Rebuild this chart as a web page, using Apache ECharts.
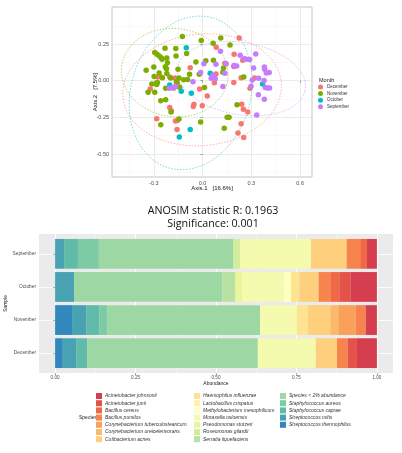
<!DOCTYPE html>
<html><head><meta charset="utf-8">
<script src="https://cdn.jsdelivr.net/npm/echarts@6/dist/echarts.min.js"></script>
<style>html,body{margin:0;padding:0;background:#fff}#c{width:402px;height:453px}</style>
</head><body><div id="c"></div>
<script>
// ---------------- DATA ----------------
const months = ['December', 'November', 'October', 'September'];
const decemberPts = [[0.225,0.292],[0.194,0.181],[0.137,0.120],[0.247,0.139],[-0.076,0.088],[0.192,0.097],[0.082,0.046],[0.073,-0.014],[0.192,-0.012],[0.237,0.021],[0.320,0.019],[0.292,-0.051],[-0.276,0.025],[-0.251,0.023],[-0.202,0.025],[-0.169,0.019],[-0.155,-0.016],[-0.176,-0.049],[-0.018,-0.056],[0.029,-0.104],[-0.053,-0.160],[-0.057,-0.176],[-0.002,-0.171],[-0.202,-0.183],[-0.192,-0.206],[-0.167,-0.275],[-0.155,-0.271],[-0.157,-0.333],[-0.282,-0.259],[0.241,-0.160],[0.251,-0.194],[0.278,-0.213],[0.237,-0.294],[0.218,-0.357],[0.253,-0.387],[-0.322,-0.056],[0.084,0.229]];
const novemberPts = [[-0.124,0.301],[-0.008,0.275],[0.065,0.255],[0.112,0.292],[0.169,0.243],[-0.231,0.222],[-0.165,0.220],[-0.294,0.192],[-0.280,0.181],[-0.267,0.169],[-0.255,0.157],[-0.249,0.146],[-0.220,0.155],[-0.163,0.169],[-0.098,0.185],[-0.216,0.123],[-0.041,0.127],[0.020,0.137],[0.067,0.139],[-0.229,0.095],[-0.151,0.079],[-0.347,0.072],[-0.300,0.093],[-0.222,0.081],[0.129,0.086],[-0.267,0.053],[-0.220,0.049],[-0.080,0.044],[-0.020,0.044],[0.125,0.058],[-0.298,0.028],[-0.247,0.021],[-0.196,0.019],[-0.145,0.019],[-0.278,-0.012],[-0.161,-0.009],[-0.116,0.007],[-0.092,0.009],[-0.312,-0.023],[-0.282,-0.025],[-0.227,-0.051],[-0.141,-0.044],[0.012,-0.046],[-0.335,-0.079],[-0.294,-0.079],[-0.257,-0.137],[-0.227,-0.130],[-0.194,-0.213],[-0.145,-0.262],[-0.012,-0.282],[0.212,-0.164],[0.151,-0.250],[0.163,-0.250],[0.133,-0.324],[-0.257,-0.301],[0.253,0.025]];
const octoberPts = [[-0.100,0.225],[-0.202,-0.030],[-0.131,-0.072],[-0.069,-0.086],[0.047,0.051],[0.369,-0.023],[-0.076,-0.333],[-0.143,-0.384]];
const septemberPts = [[0.110,0.201],[0.008,0.116],[0.082,0.113],[0.145,0.116],[0.231,0.174],[0.257,0.150],[0.269,0.146],[0.290,0.144],[0.327,0.183],[0.314,0.086],[0.194,0.104],[0.210,0.100],[0.380,0.093],[0.382,0.079],[0.392,0.053],[0.410,0.056],[0.345,0.016],[0.378,0.002],[0.386,-0.046],[0.398,-0.049],[0.412,-0.049],[0.380,-0.127],[0.343,-0.095],[0.333,-0.234],[0.298,-0.037],[0.306,0.005],[0.053,0.016],[0.059,0.023],[0.078,0.014],[-0.012,0.056],[-0.059,-0.007],[-0.204,-0.051],[-0.184,-0.049],[-0.167,-0.039],[0.125,-0.039],[0.137,0.051],[0.065,0.035]];
// ellipse: [centerX, centerY, semiAxisA, semiAxisB, angleDeg]
const decemberEllipse = [-0.003, -0.062, 0.49, 0.38, 8];
const novemberEllipse = [-0.171, 0.055, 0.33, 0.30, -15];
const octoberEllipse = [-0.073, -0.083, 0.53, 0.37, 78];
const septemberEllipse = [0.239, 0.014, 0.40, 0.245, -12];
const pcoaXTicks = [-0.3, 0, 0.3, 0.6];
const pcoaYTicks = [-0.5, -0.25, 0, 0.25];
const pcoaXMinor = [-0.45, -0.15, 0.15, 0.45];
const pcoaYMinor = [-0.625, -0.375, -0.125, 0.125, 0.375];

const samples = ['September', 'October', 'November', 'December'];
const species = ['Acinetobacter johnsonii','Acinetobacter junii','Bacillus cereus','Bacillus pumilus','Corynebacterium tuberculostearicum','Corynebacterium ureicelerivorans','Cutibacterium acnes','Haemophilus influenzae','Lactobacillus crispatus','Methylobacterium mesophilicum','Moraxella osloensis','Pseudomonas stutzeri','Roseomonas gilardii','Serratia liquefaciens','Species < 2% abundance','Staphylococcus aureus','Staphylococcus caprae','Streptococcus mitis','Streptococcus thermophilus'];
// abundance per sample, in species order above
const septemberAbund = [0.031,0,0.021,0.042,0,0,0.111,0,0,0,0.220,0,0.022,0,0.417,0.065,0.043,0.028,0];
const octoberAbund   = [0.081,0.036,0.028,0.036,0,0,0.060,0.026,0,0.023,0.129,0.021,0,0.040,0.461,0,0,0.059,0];
const novemberAbund  = [0.035,0,0,0.031,0.054,0.025,0.069,0.035,0,0,0.114,0,0,0,0.474,0.026,0.039,0.043,0.055];
const decemberAbund  = [0.062,0.029,0,0.033,0,0,0.066,0,0,0,0.180,0,0,0,0.530,0,0.033,0.043,0.024];
const abundTicks = [0, 0.25, 0.5, 0.75, 1];
const abundMinor = [0.125, 0.375, 0.625, 0.875];

// ---------------- STYLE ----------------
const monthColors = ['#F8766D', '#7CAE00', '#00BFC4', '#C77CFF'];
const speciesColors = ['#D53E4F','#E3534A','#F16844','#F7834D','#FBA05A','#FDB96A','#FECF7D','#FEE391','#FFF1A8','#FFFFBF','#F4FBAE','#E9F69C','#D2ED9C','#B8E2A1','#9CD7A4','#7DCBA5','#60BCA8','#49A2B2','#3288BD'];
const FONT = 'Liberation Sans, Arial, sans-serif';

function ellipsePts(e) {
  const [cx, cy, a, b, ang] = e, th = ang * Math.PI / 180, out = [];
  for (let i = 0; i <= 90; i++) {
    const t = i / 90 * 2 * Math.PI;
    out.push([cx + a * Math.cos(t) * Math.cos(th) - b * Math.sin(t) * Math.sin(th),
              cy + a * Math.cos(t) * Math.sin(th) + b * Math.sin(t) * Math.cos(th)]);
  }
  return out;
}

const monthPts = [decemberPts, novemberPts, octoberPts, septemberPts];
const monthEll = [decemberEllipse, novemberEllipse, octoberEllipse, septemberEllipse];
const sampleAbund = [septemberAbund, octoberAbund, novemberAbund, decemberAbund];

const series = [];
months.forEach((m, i) => {
  series.push({
    name: m + ' ellipse', type: 'line', xAxisIndex: 0, yAxisIndex: 0,
    data: ellipsePts(monthEll[i]), showSymbol: false, silent: true, z: 1,
    lineStyle: { color: monthColors[i], width: 0.9, type: [1.5, 1.5], opacity: 0.6 },
    itemStyle: { color: monthColors[i] }
  });
});
months.forEach((m, i) => {
  series.push({
    name: m, type: 'scatter', xAxisIndex: 0, yAxisIndex: 0,
    data: monthPts[i], symbolSize: 5.5, z: 3,
    itemStyle: { color: monthColors[i], opacity: 1 }
  });
});
// stacked bars: last species first (leftmost)
for (let k = species.length - 1; k >= 0; k--) {
  series.push({
    name: species[k], type: 'bar', stack: 'total', xAxisIndex: 4, yAxisIndex: 3,
    barCategoryGap: '10%',
    data: sampleAbund.map(a => a[k]),
    itemStyle: { color: speciesColors[k] }
  });
}

const tickLbl = { fontSize: 5.5, color: '#4D4D4D', fontFamily: FONT };
const option = {
  animation: false,
  backgroundColor: '#fff',
  grid: [
    { left: 112, top: 7, width: 200, height: 170, show: true, backgroundColor: '#fff', borderColor: '#B5B5B5', borderWidth: 0.8, containLabel: false, outerBoundsMode: 'none' },
    { left: 39, top: 234, width: 354, height: 139, show: true, backgroundColor: '#EBEBEB', borderWidth: 0, containLabel: false, outerBoundsMode: 'none' },
    { left: 39, top: 237.3, width: 354, height: 132.4, show: false, containLabel: false, outerBoundsMode: 'none' }
  ],
  xAxis: [
    { type: 'value', gridIndex: 0, min: -0.557, max: 0.673,
      name: 'Axis.1   [16.6%]', nameLocation: 'middle', nameGap: 8, nameMoveOverlap: false,
      nameTextStyle: { fontSize: 6, color: '#111', fontFamily: FONT },
      axisLine: { show: false },
      axisTick: { show: true, length: 2, customValues: pcoaXTicks, lineStyle: { color: '#555', width: 0.6 } },
      axisLabel: { customValues: pcoaXTicks, margin: 3, ...tickLbl, formatter: v => v.toFixed(1) },
      splitLine: { show: true, lineStyle: { color: '#E6E6E6', width: 0.8 } } },
    { type: 'value', gridIndex: 0, min: -0.557, max: 0.673, position: 'top',
      axisLine: { show: false }, axisLabel: { show: false },
      axisTick: { show: false, customValues: pcoaXMinor },
      splitLine: { show: true, lineStyle: { color: '#F2F2F2', width: 0.5 } } },
    { type: 'value', gridIndex: 1, min: -0.05, max: 1.05,
      name: 'Abundance', nameLocation: 'middle', nameGap: 8, nameMoveOverlap: false,
      nameTextStyle: { fontSize: 5, color: '#222', fontFamily: FONT },
      axisLine: { show: false },
      axisTick: { show: true, length: 2, customValues: abundTicks, lineStyle: { color: '#555', width: 0.5 } },
      axisLabel: { customValues: abundTicks, margin: 2.5, fontSize: 4.6, color: '#4D4D4D', fontFamily: FONT, formatter: v => v.toFixed(2) },
      splitLine: { show: true, lineStyle: { color: '#fff', width: 0.9 } } },
    { type: 'value', gridIndex: 1, min: -0.05, max: 1.05, position: 'top',
      axisLine: { show: false }, axisLabel: { show: false },
      axisTick: { show: false, customValues: abundMinor },
      splitLine: { show: true, lineStyle: { color: '#F6F6F6', width: 0.5 } } },
    { type: 'value', gridIndex: 2, min: -0.05, max: 1.05, show: false }
  ],
  yAxis: [
    { type: 'value', gridIndex: 0, min: -0.657, max: 0.503,
      name: 'Axis.2   [7.5%]', nameLocation: 'middle', nameGap: 14, nameRotate: 90, nameMoveOverlap: false,
      nameTextStyle: { fontSize: 6, color: '#111', fontFamily: FONT },
      axisLine: { show: false },
      axisTick: { show: true, length: 2, customValues: pcoaYTicks, lineStyle: { color: '#555', width: 0.6 } },
      axisLabel: { customValues: pcoaYTicks, margin: 3, ...tickLbl, formatter: v => v.toFixed(2) },
      splitLine: { show: true, lineStyle: { color: '#E6E6E6', width: 0.8 } } },
    { type: 'value', gridIndex: 0, min: -0.657, max: 0.503, position: 'right',
      axisLine: { show: false }, axisLabel: { show: false },
      axisTick: { show: false, customValues: pcoaYMinor },
      splitLine: { show: true, lineStyle: { color: '#F2F2F2', width: 0.5 } } },
    { type: 'value', gridIndex: 1, min: 0.4, max: 4.6, inverse: true,
      axisLine: { show: false }, axisLabel: { show: false },
      axisTick: { show: false, customValues: [1, 2, 3, 4] },
      splitLine: { show: true, lineStyle: { color: '#fff', width: 0.9 } } },
    { type: 'category', gridIndex: 2, data: samples, inverse: true,
      name: 'Sample', nameLocation: 'middle', nameGap: 31, nameRotate: 90, nameMoveOverlap: false,
      nameTextStyle: { fontSize: 5, color: '#222', fontFamily: FONT },
      axisLine: { show: false },
      axisTick: { show: true, length: 2, alignWithLabel: true, lineStyle: { color: '#555', width: 0.5 } },
      axisLabel: { margin: 3, fontSize: 4.8, color: '#4D4D4D', fontFamily: FONT },
      splitLine: { show: false } }
  ],
  legend: [
    { data: months, orient: 'vertical', left: 318, top: 84.5, padding: 0,
      icon: 'circle', itemWidth: 5, itemHeight: 5, itemGap: 1.6, selectedMode: false,
      textStyle: { fontSize: 4.5, lineHeight: 5, color: '#333', fontFamily: FONT, padding: [0, 0, 0, -1] } },
    { data: species.slice(0, 7), orient: 'vertical', left: 96, top: 393, padding: 0,
      icon: 'rect', itemWidth: 6, itemHeight: 6, itemGap: 1.2, selectedMode: false,
      textStyle: { fontSize: 5, lineHeight: 6, fontStyle: 'italic', color: '#333', fontFamily: FONT, padding: [0, 0, 0, -2] } },
    { data: species.slice(7, 14), orient: 'vertical', left: 194, top: 393, padding: 0,
      icon: 'rect', itemWidth: 6, itemHeight: 6, itemGap: 1.2, selectedMode: false,
      textStyle: { fontSize: 5, lineHeight: 6, fontStyle: 'italic', color: '#333', fontFamily: FONT, padding: [0, 0, 0, -2] } },
    { data: species.slice(14), orient: 'vertical', left: 280, top: 393, padding: 0,
      icon: 'rect', itemWidth: 6, itemHeight: 6, itemGap: 1.2, selectedMode: false,
      textStyle: { fontSize: 5, lineHeight: 6, fontStyle: 'italic', color: '#333', fontFamily: FONT, padding: [0, 0, 0, -2] } }
  ],
  graphic: [
    { type: 'text', left: 319, top: 77, style: { text: 'Month', fontSize: 5.5, fill: '#222', fontFamily: FONT } },
    { type: 'text', left: 79, top: 415.5, style: { text: 'Species', fontSize: 5, fill: '#222', fontFamily: FONT } },
    { type: 'text', x: 213, y: 211, style: { text: 'ANOSIM statistic R: 0.1963', fontSize: 10.7, fill: '#111', fontFamily: 'Open Sans, sans-serif', textAlign: 'center', textVerticalAlign: 'middle' } },
    { type: 'text', x: 213, y: 223.5, style: { text: 'Significance: 0.001', fontSize: 10.7, fill: '#111', fontFamily: 'Open Sans, sans-serif', textAlign: 'center', textVerticalAlign: 'middle' } }
  ],
  series: series
};
const chart = echarts.init(document.getElementById('c'), null, { renderer: 'canvas' });
chart.setOption(option);
</script></body></html>
